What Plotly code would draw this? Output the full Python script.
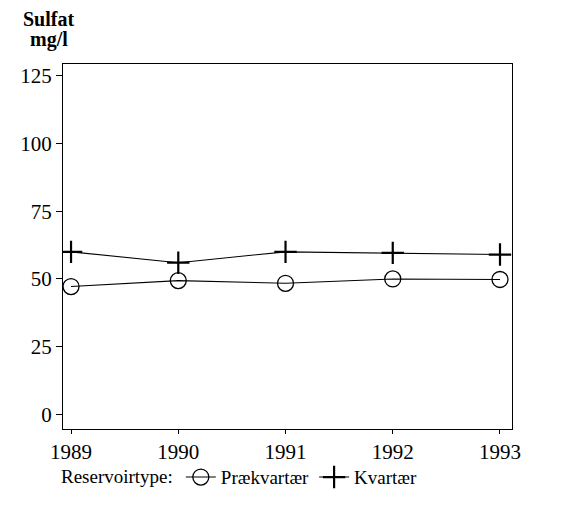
import plotly.graph_objects as go

years = [1989, 1990, 1991, 1992, 1993]
praekvartaer = [47.2, 49.4, 48.4, 50.0, 49.8]
kvartaer = [60.0, 56.0, 60.0, 59.6, 59.0]
y_ticks = [0, 25, 50, 75, 100, 125]

FONT = "Liberation Serif"

fig = go.Figure()
fig.add_trace(go.Scatter(
    x=years, y=praekvartaer, name="Prækvartær", mode="lines+markers",
    line=dict(color="black", width=1.1),
    marker=dict(symbol="circle-open", size=16, color="black", line=dict(width=1.3)),
))
fig.add_trace(go.Scatter(
    x=years, y=kvartaer, name="Kvartær", mode="lines+markers",
    line=dict(color="black", width=1.1),
    marker=dict(symbol="cross-thin", size=16, color="black", line=dict(width=2.2, color="black")),
))

fig.update_layout(
    width=562, height=506,
    margin=dict(l=55, r=58, t=56, b=85),
    paper_bgcolor="white", plot_bgcolor="white",
    font=dict(family=FONT, size=21, color="black"),
    showlegend=True,
    legend=dict(
        orientation="h", x=-0.009, xanchor="left", y=-0.08, yanchor="top",
        title=dict(text="Reservoirtype:", font=dict(family=FONT, size=19)),
        font=dict(family=FONT, size=19), itemwidth=30, tracegroupgap=0,
        bgcolor="rgba(0,0,0,0)",
    ),
)
fig.add_annotation(text="<b>Sulfat</b>", xref="paper", yref="paper",
                   x=-0.0312, y=1.1233, xanchor="center", yanchor="middle",
                   showarrow=False, font=dict(family=FONT, size=20))
fig.add_annotation(text="<b>mg/l</b>", xref="paper", yref="paper",
                   x=-0.0312, y=1.0658, xanchor="center", yanchor="middle",
                   showarrow=False, font=dict(family=FONT, size=20))

fig.update_xaxes(
    range=[1988.925, 1993.112], tickvals=years, ticktext=[str(y) for y in years],
    ticks="outside", ticklen=4, tickwidth=1, tickcolor="black",
    showline=True, linecolor="black", linewidth=1, mirror=True,
    showgrid=False, zeroline=False,
)
fig.update_yaxes(
    range=[-5.33, 129.26], tickvals=y_ticks, ticktext=[str(v) for v in y_ticks],
    ticks="outside", ticklen=6, tickwidth=1, tickcolor="black",
    showline=True, linecolor="black", linewidth=1, mirror=True,
    showgrid=False, zeroline=False,
)

fig.write_html("out.html")
